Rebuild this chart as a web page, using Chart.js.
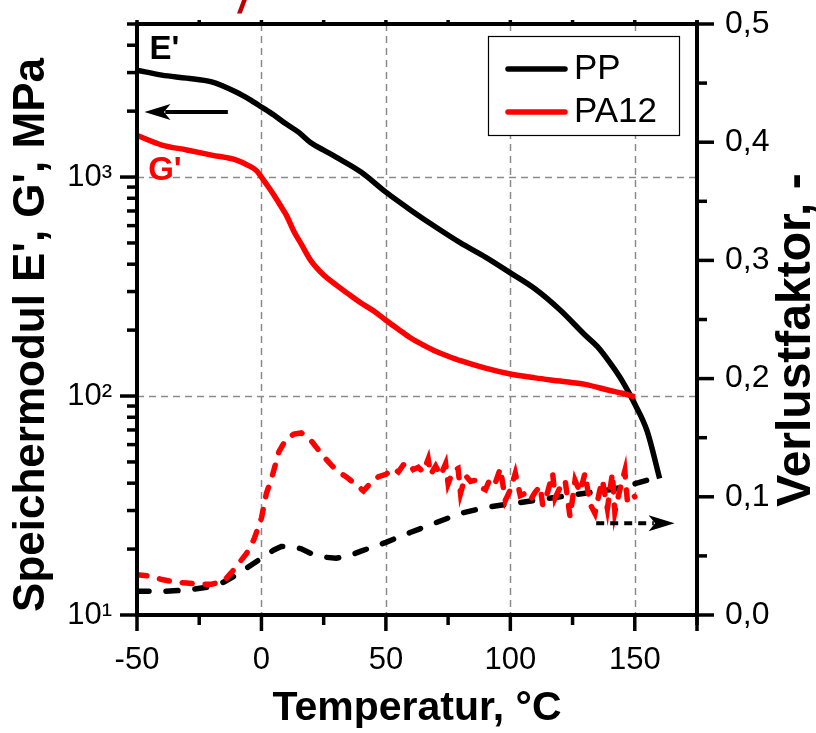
<!DOCTYPE html>
<html>
<head>
<meta charset="utf-8">
<title>DMA PP / PA12</title>
<script src="https://cdn.jsdelivr.net/npm/chart.js@4.4.0/dist/chart.umd.min.js"></script>
<style>
  body { margin: 0; background: #fff; }
  canvas { display: block; }
</style>
</head>
<body>
<canvas id="dmaChart" width="816" height="733"></canvas>
<script>
// storage modulus E' (PP) and G' (PA12), MPa
const ppTemp = [-50, -40, -30, -20, -10, -5, 0, 5, 10, 15, 20, 25, 30, 40, 50, 60, 70, 80, 90, 100, 110, 120, 130, 135, 140, 145, 150, 155, 160];
const ppModulus = [3080, 2920, 2830, 2720, 2440, 2270, 2090, 1920, 1745, 1600, 1430, 1327, 1233, 1054, 853, 706, 591, 500, 431, 365, 308, 247, 190, 168, 142, 117, 92, 69, 42];

const pa12Temp = [-50, -40, -30, -20, -10, -5, -2, 0, 2, 5, 8, 10, 13, 16, 20, 25, 30, 35, 40, 45, 50, 55, 60, 65, 70, 75, 80, 90, 100, 110, 120, 130, 140, 145, 150];
const pa12Modulus = [1550, 1400, 1330, 1260, 1195, 1125, 1070, 1000, 929, 828, 730, 670, 566, 494, 413, 357, 322, 292, 266, 245, 222, 202, 184, 171, 160, 152, 145, 134, 126, 121, 117, 113, 106, 103, 99];

// loss factor (tan delta)
const ppLossTemp = [-50, -40, -30, -20, -15, -10, -5, 0, 5, 8, 12, 16, 20, 25, 30, 35, 40, 50, 60, 70, 80, 90, 100, 110, 120, 130, 140, 145, 150, 155, 160];
const ppLoss = [0.020, 0.020, 0.021, 0.024, 0.028, 0.034, 0.041, 0.048, 0.055, 0.058, 0.058, 0.056, 0.052, 0.049, 0.048, 0.050, 0.054, 0.0615, 0.070, 0.078, 0.086, 0.091, 0.094, 0.097, 0.100, 0.103, 0.106, 0.108, 0.111, 0.114, 0.118];

const pa12LossTemp = [-50, -45, -40, -35, -30, -25, -20, -15, -12, -9, -6, -3, 0, 2, 4, 7, 10, 13, 16, 19, 22, 25, 28, 31, 34, 37, 41, 44, 47, 50, 53, 55, 57, 59, 61, 63, 65, 67, 68, 70, 72, 74, 75, 77, 79, 80, 82, 84, 86, 88, 90, 92, 94, 96, 98, 100, 102, 104, 106, 108, 110, 112, 113, 115, 117, 118, 120, 122, 124, 126, 128, 130, 132, 134, 136, 137, 139, 141, 142, 144, 146, 147, 149, 150];
const pa12Loss = [0.034, 0.033, 0.030, 0.028, 0.027, 0.026, 0.026, 0.029, 0.036, 0.044, 0.052, 0.064, 0.082, 0.103, 0.115, 0.138, 0.149, 0.153, 0.154, 0.150, 0.142, 0.134, 0.127, 0.121, 0.117, 0.112, 0.105, 0.112, 0.117, 0.119, 0.124, 0.121, 0.127, 0.129, 0.123, 0.125, 0.121, 0.132, 0.119, 0.126, 0.118, 0.128, 0.111, 0.122, 0.124, 0.103, 0.118, 0.113, 0.114, 0.108, 0.106, 0.116, 0.112, 0.124, 0.097, 0.106, 0.120, 0.101, 0.103, 0.097, 0.104, 0.109, 0.093, 0.104, 0.120, 0.099, 0.108, 0.114, 0.083, 0.114, 0.104, 0.120, 0.094, 0.086, 0.106, 0.114, 0.090, 0.120, 0.087, 0.106, 0.122, 0.097, 0.103, 0.100];

const seriesNames = ['PP', 'PA12'];
const tempTicks = [-50, 0, 50, 100, 150];
const tempMinor = [-25, 25, 75, 125, 175];
const modulusTicks = [10, 100, 1000];
const modulusMinor = [20, 30, 40, 50, 60, 70, 80, 90, 200, 300, 400, 500, 600, 700, 800, 900, 2000, 3000, 4000, 5000];
const lossTicks = [0, 0.1, 0.2, 0.3, 0.4, 0.5];
const lossMinor = [0.05, 0.15, 0.25, 0.35, 0.45];

const FONT = "'Liberation Sans', Arial, sans-serif";
const RED = '#ff0000';
const SUP = { 1: '\u00b9', 2: '\u00b2', 3: '\u00b3' };

const toPoints = (xs, ys) => xs.map((t, i) => ({ x: t, y: ys[i] }));

function drawArrow(ctx, x1, y1, x2, y2, dash) {
  const head = 26, half = 8;
  const dir = Math.sign(x2 - x1);
  ctx.beginPath();
  ctx.setLineDash(dash);
  ctx.moveTo(x1, y1);
  ctx.lineTo(x2 - dir * head * 0.8, y2);
  ctx.stroke();
  ctx.setLineDash([]);
  ctx.beginPath();
  ctx.moveTo(x2, y2);
  ctx.lineTo(x2 - dir * head, y2 - half);
  ctx.lineTo(x2 - dir * head * 0.75, y2);
  ctx.lineTo(x2 - dir * head, y2 + half);
  ctx.closePath();
  ctx.fill();
}

const framePlugin = {
  id: 'frame',
  beforeDatasetsDraw(chart) {
    const { ctx, chartArea: a, scales } = chart;
    ctx.save();
    ctx.strokeStyle = '#8a8a8a';
    ctx.lineWidth = 1.5;
    ctx.setLineDash([7, 5]);
    [0, 50, 100, 150].forEach(t => {
      const px = Math.round(scales.x.getPixelForValue(t)) + 0.5;
      ctx.beginPath(); ctx.moveTo(px, a.top); ctx.lineTo(px, a.bottom); ctx.stroke();
    });
    [100, 1000].forEach(v => {
      const py = Math.round(scales.y.getPixelForValue(v)) + 0.5;
      ctx.beginPath(); ctx.moveTo(a.left, py); ctx.lineTo(a.right, py); ctx.stroke();
    });
    ctx.restore();
  },
  afterDatasetsDraw(chart) {
    const { ctx, chartArea: a, scales: { x, y, y2 } } = chart;
    ctx.save();

    // axis box
    ctx.strokeStyle = '#000';
    ctx.lineWidth = 4;
    ctx.setLineDash([]);
    ctx.strokeRect(a.left, a.top, a.right - a.left, a.bottom - a.top);

    // tick marks
    ctx.lineWidth = 3.5;
    const seg = (x1, y1, x2, y2) => { ctx.beginPath(); ctx.moveTo(x1, y1); ctx.lineTo(x2, y2); ctx.stroke(); };
    tempTicks.concat([175]).forEach(v => {
      const px = x.getPixelForValue(v);
      seg(px, a.bottom, px, a.bottom + 16);
      seg(px, a.top, px, a.top - 4);
    });
    tempMinor.forEach(v => {
      const px = x.getPixelForValue(v);
      seg(px, a.bottom, px, a.bottom + 10);
      seg(px, a.top, px, a.top - 4);
    });
    modulusTicks.forEach(v => { const py = y.getPixelForValue(v); seg(a.left, py, a.left - 17, py); });
    modulusMinor.forEach(v => { const py = y.getPixelForValue(v); seg(a.left, py, a.left - 10, py); });
    lossTicks.forEach(v => { const py = y2.getPixelForValue(v); seg(a.right, py, a.right + 17, py); });
    lossMinor.forEach(v => { const py = y2.getPixelForValue(v); seg(a.right, py, a.right + 10, py); });

    // curve labels and arrows
    ctx.font = 'bold 33px ' + FONT;
    ctx.textBaseline = 'middle';
    ctx.textAlign = 'left';
    ctx.fillStyle = '#000';
    ctx.fillText("E'", x.getPixelForValue(-45), y.getPixelForValue(3800));
    ctx.fillStyle = RED;
    ctx.fillText("G'", x.getPixelForValue(-45.5), y.getPixelForValue(1070));

    ctx.fillStyle = '#000';
    ctx.strokeStyle = '#000';
    ctx.lineWidth = 4;
    ctx.lineCap = 'butt';
    const ay = y.getPixelForValue(1980);
    drawArrow(ctx, x.getPixelForValue(-13.5), ay, x.getPixelForValue(-47), ay, []);
    const by = y2.getPixelForValue(0.0776);
    drawArrow(ctx, x.getPixelForValue(134.5), by, x.getPixelForValue(166), by, [8, 6]);

    // legend
    const lx = a.right - 209, ly = a.top + 12, lw = 191, lh = 99;
    ctx.fillStyle = '#fff';
    ctx.fillRect(lx, ly, lw, lh);
    ctx.strokeStyle = '#000';
    ctx.lineWidth = 1.2;
    ctx.strokeRect(lx + 0.5, ly + 0.5, lw, lh);
    ctx.lineWidth = 5.5;
    ctx.lineCap = 'round';
    ctx.font = '35px ' + FONT;
    ctx.textBaseline = 'alphabetic';
    [['#000', 33], [RED, 76]].forEach(([c, dy], i) => {
      ctx.strokeStyle = c;
      seg(lx + 20, ly + dy, lx + 77, ly + dy);
      ctx.fillStyle = '#000';
      ctx.fillText(seriesNames[i], lx + 86, ly + dy + 10);
    });

    // axis titles
    ctx.fillStyle = '#000';
    ctx.textAlign = 'center';
    ctx.textBaseline = 'middle';
    ctx.font = 'bold 41px ' + FONT;
    ctx.fillText('Temperatur, \u00b0C', (a.left + a.right) / 2, 709);

    ctx.font = 'bold 44px ' + FONT;
    ctx.translate(32, 335);
    ctx.rotate(-Math.PI / 2);
    ctx.fillText("Speichermodul E', G', MPa", 0, 0);
    ctx.setTransform(1, 0, 0, 1, 0, 0);

    ctx.font = 'bold 48px ' + FONT;
    ctx.translate(797, 340);
    ctx.rotate(-Math.PI / 2);
    ctx.fillText('Verlustfaktor, -', 0, 0);
    ctx.setTransform(1, 0, 0, 1, 0, 0);

    // clipped title fragment at the top edge
    ctx.fillStyle = '#c00000';
    ctx.font = 'italic bold 40px ' + FONT;
    ctx.textBaseline = 'alphabetic';
    ctx.fillText('/', 244, 13);

    ctx.restore();
  }
};

const noOverflow = s => { s.paddingTop = 0; s.paddingBottom = 0; s.paddingLeft = 0; s.paddingRight = 0; };
const hiddenGrid = { display: false, drawTicks: false };

const ctx = document.getElementById('dmaChart');
new Chart(ctx, {
  type: 'line',
  data: {
    datasets: [
      { label: seriesNames[0] + " E'", data: toPoints(ppTemp, ppModulus), yAxisID: 'y',
        borderColor: '#000', borderWidth: 5.5, pointRadius: 0, cubicInterpolationMode: 'monotone', order: 2 },
      { label: seriesNames[1] + " G'", data: toPoints(pa12Temp, pa12Modulus), yAxisID: 'y',
        borderColor: RED, borderWidth: 5.5, pointRadius: 0, cubicInterpolationMode: 'monotone', order: 1 },
      { label: seriesNames[0] + ' tan d', data: toPoints(ppLossTemp, ppLoss), yAxisID: 'y2',
        borderColor: '#000', borderWidth: 5.5, borderDash: [12, 17], borderCapStyle: 'round', pointRadius: 0, order: 4 },
      { label: seriesNames[1] + ' tan d', data: toPoints(pa12LossTemp, pa12Loss), yAxisID: 'y2',
        borderColor: RED, borderWidth: 5.5, borderDash: [10, 13], borderCapStyle: 'round', pointRadius: 0, order: 3 }
    ]
  },
  options: {
    responsive: false,
    devicePixelRatio: 1,
    animation: false,
    events: [],
    layout: { padding: { top: 24 } },
    plugins: { legend: { display: false }, tooltip: { enabled: false } },
    scales: {
      x: {
        type: 'linear', position: 'bottom', min: -50, max: 175,
        grid: hiddenGrid, border: { display: false },
        afterBuildTicks: s => { s.ticks = tempTicks.map(v => ({ value: v })); },
        afterFit: s => { s.height = 118; noOverflow(s); },
        ticks: { autoSkip: false, maxRotation: 0, padding: 27, color: '#000', font: { family: FONT, size: 31 } }
      },
      y: {
        type: 'logarithmic', position: 'left', min: 10, max: 5000,
        grid: hiddenGrid, border: { display: false },
        afterBuildTicks: s => { s.ticks = modulusTicks.map(v => ({ value: v })); },
        afterFit: s => { s.width = 137; noOverflow(s); },
        ticks: { padding: 25, color: '#000', font: { family: FONT, size: 31 },
          callback: v => '10' + SUP[Math.round(Math.log10(v))] }
      },
      y2: {
        type: 'linear', position: 'right', min: 0, max: 0.5,
        grid: hiddenGrid, border: { display: false },
        afterBuildTicks: s => { s.ticks = lossTicks.map(v => ({ value: v })); },
        afterFit: s => { s.width = 119; noOverflow(s); },
        ticks: { padding: 28, color: '#000', font: { family: FONT, size: 32 },
          callback: v => v.toFixed(1).replace('.', ',') }
      }
    }
  },
  plugins: [framePlugin]
});
</script>
</body>
</html>
